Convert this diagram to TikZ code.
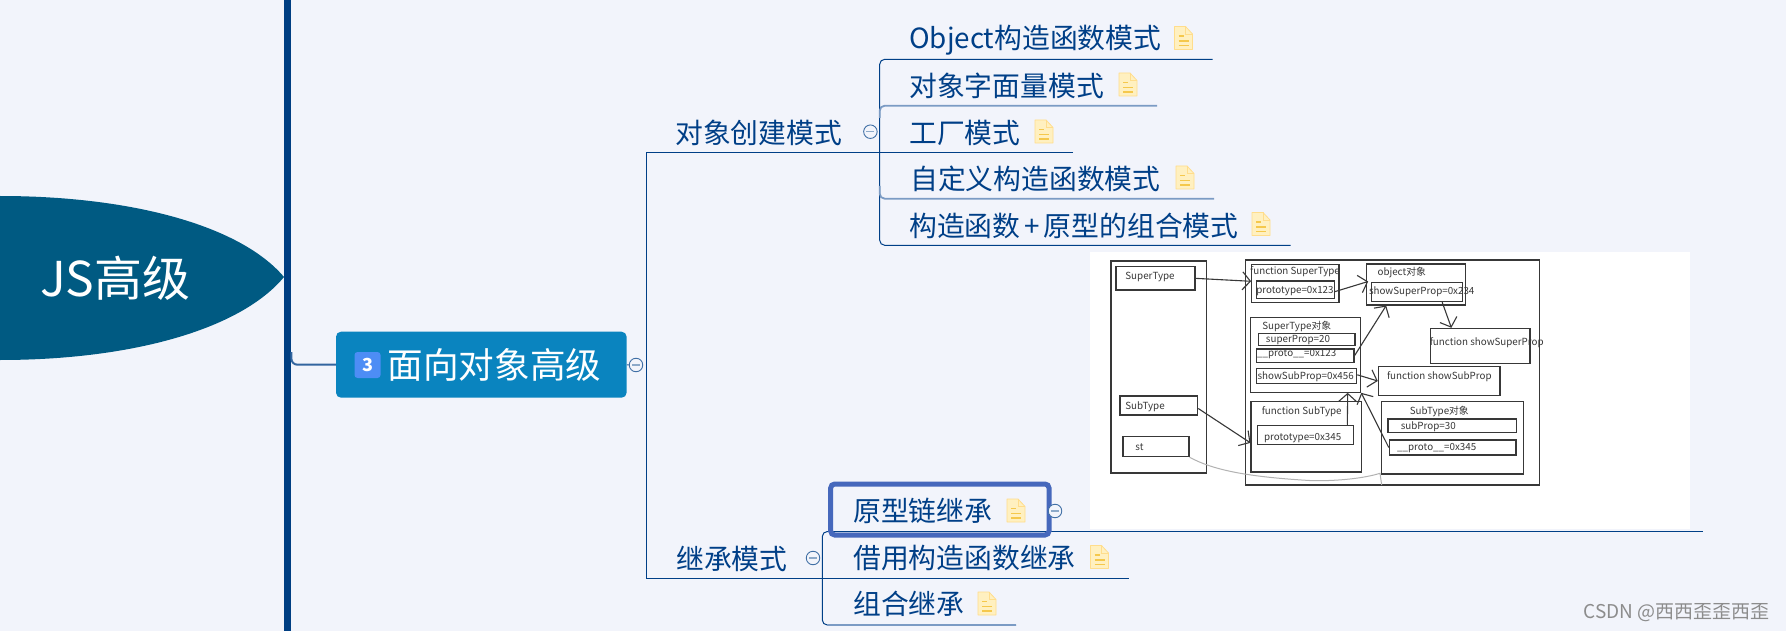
\documentclass[tikz,border=0pt]{standalone}
\usepackage{fontspec}
\setmainfont{Noto Sans CJK SC}
\usetikzlibrary{arrows.meta,calc}
\definecolor{bgc}{HTML}{F2F4FB}
\definecolor{ink}{HTML}{003F87}
\definecolor{lite}{HTML}{7B9BC4}
\definecolor{spine}{HTML}{003E82}
\definecolor{rootc}{HTML}{005A82}
\definecolor{mainc}{HTML}{0A84BF}
\definecolor{badge}{HTML}{4D8DF5}
\definecolor{hilite}{HTML}{4668BC}
\definecolor{pen}{HTML}{383838}
\definecolor{notefill}{HTML}{FFF0C0}
\definecolor{noteedge}{HTML}{FFDD8C}
\definecolor{notebar}{HTML}{F5C84C}
\tikzset{
  x=1pt,y=-1pt,
  topic/.style={anchor=west,inner sep=0pt,text=ink,font=\fontsize{27.8}{30}\selectfont},
  conn/.style={draw=ink,line width=1pt},
  liteconn/.style={draw=lite,line width=1.8pt},
  foldc/.style={circle,draw=ink!75,fill=bgc,line width=.9pt,minimum size=13.5pt,inner sep=0pt,
    path picture={\draw[draw=ink!45,line width=1.2pt]
      ([xshift=-4pt]path picture bounding box.center) -- ([xshift=4pt]path picture bounding box.center);}},
  imgbox/.style={draw=pen,line width=1.1pt,inner sep=0pt},
  imgtext/.style={inner sep=0pt,text=pen,font=\fontsize{9.8}{11}\selectfont},
  imgarrow/.style={draw=pen,line width=1.1pt,-{Straight Barb[length=8pt,width=18pt]}},
  noteicon/.pic={
    \draw[fill=notefill,draw=noteedge,line width=.8pt,line join=round]
      (-9,-11.5) -- (2,-11.5) -- (9,-4) -- (9,11.5) -- (-9,11.5) -- cycle;
    \draw[draw=noteedge,line width=.8pt] (2,-11.5) -- (2,-4) -- (9,-4);
    \draw[draw=notebar,line width=1.4pt] (-5,-2) -- (0,-2) (-5,3) -- (5,3) (-5,7.5) -- (5,7.5);
  }
}
\begin{document}
\begin{tikzpicture}
\useasboundingbox (0,0) rectangle (1786,631);
\fill[bgc] (0,0) rectangle (1786,631);

% spine
\fill[spine] (284,0) rectangle (291.4,631);

% root
\path[fill=rootc] (0,196) .. controls (130,196) and (240,225) .. (284,277)
  .. controls (240,330) and (130,360) .. (0,360) -- cycle;
\node[inner sep=0pt,anchor=west,text=white,font=\fontsize{48}{50}\selectfont] (root) at (40,278.5) {JS高级};

% main topic
\node[draw=none,fill=mainc,rounded corners=5pt,minimum width=290.6pt,minimum height=66pt,inner sep=0pt] (main) at (481.3,364.7) {};
\node[fill=badge,rounded corners=3pt,minimum width=26pt,minimum height=26pt,inner sep=0pt,text=white,font=\bfseries\fontsize{18}{20}\selectfont] (mbadge) at (367.5,365) {3};
\node[inner sep=0pt,anchor=west,text=white,font=\fontsize{35.6}{38}\selectfont] (mtext) at (387.5,365) {面向对象高级};
\draw[draw=ink!80,line width=2pt,rounded corners=6pt] (291.4,352) |- (main.west);
\node[foldc] (mfold) at (636,365) {};
\draw[draw=ink!75,line width=1pt] (main.east) -- (mfold.west);

% trunk to level two
\coordinate (t1) at (646,152.3);
\coordinate (t2) at (646,578.3);
\coordinate (e1) at (1073,152.3);
\coordinate (e2) at (1129,578.3);
\draw[conn] (e1) -- (t1) -- (t2) -- (e2);

% object creation
\node[topic] (oc) at (675,132.5) {对象创建模式};
\node[foldc] (ocfold) at (870.4,131.7) {};
\node[topic] (o1) at (909,40) {Object构造函数模式};
\node[topic] (o2) at (909,86) {对象字面量模式};
\node[topic] (o3) at (909,133) {工厂模式};
\node[topic] (o4) at (910,179) {自定义构造函数模式};
\node[topic] (o5) at (909,226) {构造函数\hspace{4pt}+\hspace{4pt}原型的组合模式};
\pic at (1183.5,38) {noteicon};
\pic at (1128,84.5) {noteicon};
\pic at (1044,131.5) {noteicon};
\pic at (1185,177.5) {noteicon};
\pic at (1261,224) {noteicon};
\coordinate (oe1) at (1212.6,59.3);
\coordinate (oe2) at (1157,105.7);
\coordinate (oe4) at (1214,198.7);
\coordinate (oe5) at (1290.5,245.3);
\coordinate (ov1) at (879.7,59.3);
\coordinate (ov5) at (879.7,245.3);
\coordinate (ov2) at (879.7,118);
\coordinate (ov4) at (879.7,186);
\draw[conn,rounded corners=5pt] (oe1) -- (ov1) -- (ov5) -- (oe5);
\draw[liteconn,rounded corners=5pt] (ov2) |- (oe2);
\draw[liteconn,rounded corners=5pt] (ov4) |- (oe4);

% inheritance
\node[topic] (ih) at (676,559) {继承模式};
\node[foldc] (ihfold) at (813,558) {};
\node[topic] (i1) at (853,511) {原型链继承};
\node[topic] (i2) at (853,558) {借用构造函数继承};
\node[topic] (i3) at (853,604) {组合继承};
\pic at (1016,510.5) {noteicon};
\pic at (1099.5,557) {noteicon};
\pic at (987,603.5) {noteicon};
\coordinate (ie1) at (1703,531.5);
\coordinate (iv1) at (822.3,531.5);
\coordinate (iv3) at (822.3,625);
\coordinate (ie3) at (1016,625);
\coordinate (is1) at (1049,531.5);
\draw[conn,rounded corners=5pt] (is1) -- (iv1) -- (iv3) -- (ie3);
\draw[conn] (is1) -- (ie1);
\draw[liteconn] (iv3) ++(5,0) -- (ie3);
\draw[draw=hilite,line width=5pt,rounded corners=4pt] (830.7,484) rectangle (1049,535);
\node[foldc] (i1fold) at (1055,511) {};

% embedded picture
\fill[white] (1090,252) rectangle (1690,528.5);
\newcommand{\imgnode}[5]{\node[imgbox,minimum width=#3pt-#2pt,minimum height=#5pt-#4pt] (#1) at ({(#2+#3)/2},{(#4+#5)/2}) {};}
\imgnode{leftb}{1111}{1206.7}{261}{473}
\imgnode{sup}{1116}{1195}{266.7}{290}
\imgnode{sub}{1120}{1197.7}{396}{415}
\imgnode{stb}{1123}{1189}{436.7}{456.7}
\imgnode{rightb}{1245.7}{1539.3}{260}{485}
\imgnode{fnsup}{1251.7}{1339}{264.3}{302.3}
\imgnode{pa}{1256.7}{1334.3}{281}{298.3}
\imgnode{objb}{1366.7}{1465.7}{264}{305}
\imgnode{shsup}{1371.7}{1462.7}{282.3}{301.7}
\imgnode{supobj}{1250.7}{1360.7}{317.3}{392.3}
\imgnode{sp}{1258.7}{1355}{333.3}{345.3}
\imgnode{pra}{1256.7}{1354}{349}{362.3}
\imgnode{shsub}{1256.3}{1356.7}{368.3}{383.3}
\imgnode{fshsup}{1430.7}{1530}{328.3}{363.3}
\imgnode{fshsub}{1378.3}{1500}{366.7}{395.3}
\imgnode{fnsub}{1251}{1361.7}{401.7}{472}
\imgnode{pb}{1257.3}{1353.3}{425.3}{444.7}
\imgnode{subobj}{1381.3}{1523.3}{401.3}{474}
\imgnode{subp}{1388}{1516.7}{419}{432.7}
\imgnode{prb}{1389.3}{1516}{440}{455}

\node[imgtext] (t1a) at (1150,276.8) {SuperType};
\node[imgtext] (t2a) at (1145,406.5) {SubType};
\node[imgtext] (t3a) at (1139.5,447.5) {st};
\node[imgtext] (t4a) at (1295,271.8) {function SuperType};
\node[imgtext] (t5a) at (1295,290.8) {prototype=0x123};
\node[imgtext] (t6a) at (1401.7,272.5) {object对象};
\node[imgtext] (t7a) at (1421.7,291.8) {showSuperProp=0x234};
\node[imgtext] (t8a) at (1296.7,326.5) {SuperType对象};
\node[imgtext] (t9a) at (1298,340.1) {superProp=20};
\node[imgtext] (t10a) at (1296.7,354.1) {\_\_proto\_\_=0x123};
\node[imgtext] (t11a) at (1305.7,377.1) {showSubProp=0x456};
\node[imgtext] (t12a) at (1486.7,343.1) {function showSuperProp};
\node[imgtext] (t13a) at (1439.3,377.1) {function showSubProp};
\node[imgtext] (t14a) at (1301.7,411.5) {function SubType};
\node[imgtext] (t15a) at (1302.7,438.1) {prototype=0x345};
\node[imgtext] (t16a) at (1439.3,411.5) {SubType对象};
\node[imgtext] (t17a) at (1428.3,426.8) {subProp=30};
\node[imgtext] (t18a) at (1436.7,448.1) {\_\_proto\_\_=0x345};

\draw[imgarrow] (sup.east) -- ([yshift=2pt]fnsup.west);
\draw[imgarrow] ([yshift=-2pt]pa.east) -- ([xshift=2pt,yshift=3pt]objb.west);
\draw[imgarrow] ([xshift=25pt]shsup.south) -- ([xshift=-29pt]fshsup.north);
\draw[imgarrow] (pra.east) -- ([xshift=-30pt]objb.south);
\draw[imgarrow] ([yshift=1pt]shsub.east) -- (fshsub.west);
\draw[imgarrow] ([xshift=42pt]pb.north) -- ([xshift=42pt]supobj.south);
\draw[imgarrow] (prb.west) -- (supobj.south east);
\draw[imgarrow] ([yshift=-3pt]sub.east) -- ([yshift=-6pt]fnsub.west);
\draw[draw=black!30,line width=1pt] (stb.south east) .. controls (1213,470) and (1247,477) .. (1313,480.7)
  .. controls (1340,481) and (1365,478) .. (1380,473.3) -- (1381.7,485);

% watermark
\node[inner sep=0pt,anchor=east,text=black!45,font=\fontsize{19}{21}\selectfont] (wm) at (1770,613) {CSDN @西西歪歪西歪};
\end{tikzpicture}
\end{document}
